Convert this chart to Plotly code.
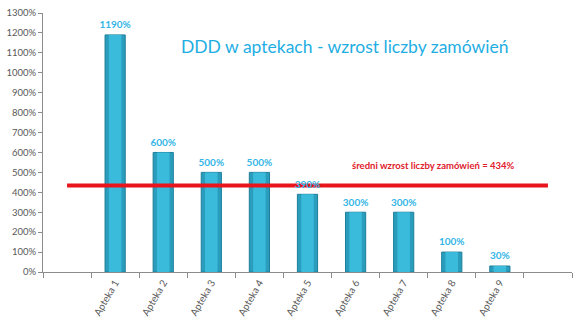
import plotly.graph_objects as go

categories = [" ", "Apteka 1", "Apteka 2", "Apteka 3", "Apteka 4", "Apteka 5",
              "Apteka 6", "Apteka 7", "Apteka 8", "Apteka 9", "  "]
bar_names = ["Apteka 1", "Apteka 2", "Apteka 3", "Apteka 4", "Apteka 5",
             "Apteka 6", "Apteka 7", "Apteka 8", "Apteka 9"]
growth = [1190, 600, 500, 500, 390, 300, 300, 100, 30]
mean_value = 434
mean_label = "średni wzrost liczby zamówień = 434%"
title_text = "DDD w aptekach - wzrost liczby zamówień"

FONT = "Lato"

fig = go.Figure()
fig.add_trace(go.Bar(
    x=bar_names, y=growth, width=0.42,
    marker=dict(color="#2a9dbd", line=dict(color="#1d7f9a", width=1)),
    showlegend=False, hoverinfo="skip",
))
fig.add_trace(go.Bar(
    x=bar_names, y=growth, width=0.26,
    marker=dict(color="#3bbbdc", line=dict(width=0)),
    showlegend=False, hoverinfo="skip",
))
fig.add_trace(go.Scatter(
    x=[categories[0], categories[-1]], y=[mean_value, mean_value],
    mode="lines", line=dict(color="#e8151c", width=4),
    showlegend=False, hoverinfo="skip",
))
fig.add_trace(go.Scatter(
    x=bar_names, y=growth, mode="markers+text",
    marker=dict(size=5, opacity=0),
    text=["<b>%d%%</b>" % v for v in growth], textposition="top center",
    textfont=dict(color="#33b5e6", size=10, family=FONT),
    cliponaxis=False, showlegend=False, hoverinfo="skip",
))
fig.add_annotation(
    x=(433 - 43) / 529, xref="paper", xanchor="center", y=533, yref="y",
    text="<b>" + mean_label + "</b>",
    showarrow=False, font=dict(color="#e0202a", size=9.5, family=FONT),
)
fig.add_annotation(
    x=(345 - 43) / 529, xref="paper", xanchor="center",
    y=(272 - 47) / 259, yref="paper", yanchor="middle",
    text=title_text, showarrow=False,
    font=dict(color="#1eaee3", size=17.5, family=FONT),
)

fig.update_layout(
    width=580, height=324,
    margin=dict(l=43, r=8, t=13, b=52),
    paper_bgcolor="white", plot_bgcolor="white",
    barmode="overlay",
    font=dict(family=FONT, color="#595959", size=9.5),
    xaxis=dict(
        type="category", categoryorder="array", categoryarray=categories,
        range=[-0.5, 10.5], showline=True, linecolor="#8c8c8c", linewidth=1,
        ticks="outside", tickson="boundaries", ticklen=5, tickcolor="#8c8c8c",
        tickangle=-60, showgrid=False, tickfont=dict(size=10, color="#595959"),
        automargin=False,
    ),
    yaxis=dict(
        range=[0, 1300], dtick=100, ticksuffix="%", showline=True,
        linecolor="#8c8c8c", linewidth=1, ticks="outside", ticklen=4,
        tickcolor="#8c8c8c", showgrid=False, zeroline=False,
        tickfont=dict(size=9.5, color="#595959"), automargin=False,
    ),
)

fig.write_html("out.html")
